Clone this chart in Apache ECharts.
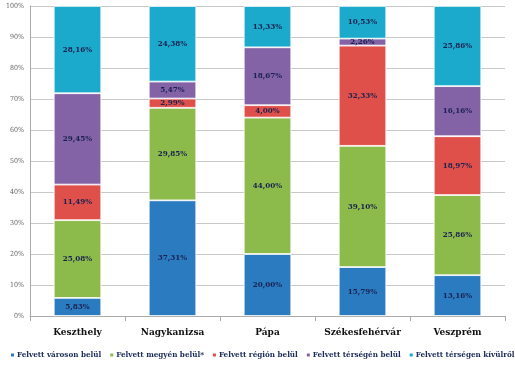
<!DOCTYPE html>
<html><head><meta charset="utf-8">
<script src="https://cdn.jsdelivr.net/npm/echarts@6/dist/echarts.min.js"></script>
<style>html,body{margin:0;padding:0;background:#fff;overflow:hidden}#c{width:515px;height:365px}</style>
</head><body><div id="c"></div>
<script>
const categories = ['Keszthely','Nagykanizsa','Pápa','Székesfehérvár','Veszprém'];
const seriesNames = ['Felvett városon belül','Felvett megyén belül*','Felvett régión belül','Felvett térségén belül','Felvett térségen kívülről'];
const varosonBelul = [5.83, 37.31, 20.00, 15.79, 13.16];
const megyenBelul = [25.08, 29.85, 44.00, 39.10, 25.86];
const regionBelul = [11.49, 2.99, 4.00, 32.33, 18.97];
const tersegenBelul = [29.45, 5.47, 18.67, 2.26, 16.16];
const tersegenKivulrol = [28.16, 24.38, 13.33, 10.53, 25.86];
const colors = ['#2B7BC1','#8DBB4B','#E0504B','#8462A6','#1BAACB'];
const yTicks = [0,10,20,30,40,50,60,70,80,90,100];
const values = [varosonBelul, megyenBelul, regionBelul, tersegenBelul, tersegenKivulrol];
const serif = '"DejaVu Serif Condensed", "DejaVu Serif", serif';
const chart = echarts.init(document.getElementById('c'));
chart.setOption({
  animation:false,
  grid:{left:30,right:10,top:6,bottom:49},
  legend:{bottom:1,left:4,width:800,itemWidth:5,itemHeight:5,itemGap:7,
    textStyle:{fontFamily:serif,fontWeight:'bold',fontSize:8,color:'#1a2a5a',padding:[0,0,0,-3]},
    data:seriesNames.map((n,i)=>({name:n,icon:'rect'}))},
  xAxis:{type:'category',data:categories,
    axisLine:{lineStyle:{color:'#aaa'}},
    axisTick:{show:true,lineStyle:{color:'#aaa'}},
    axisLabel:{interval:0,fontFamily:serif,fontWeight:'bold',fontSize:10,color:'#111',margin:11}},
  yAxis:{type:'value',min:0,max:100,interval:10,
    axisLine:{show:true,lineStyle:{color:'#aaa'}},
    axisTick:{show:false},
    splitLine:{lineStyle:{color:'#c8c8c8'}},
    axisLabel:{fontFamily:serif,fontSize:7,color:'#666',margin:6,formatter:v=>yTicks.includes(v)?v+'%':''}},
  series:values.map((arr,i)=>({
    name:seriesNames[i],type:'bar',stack:'s',barWidth:'50%',
    itemStyle:{color:colors[i],borderColor:'#fff',borderWidth:0.8},
    label:{show:true,position:'inside',fontFamily:serif,fontWeight:'bold',fontSize:8,color:'#1a2250',
      formatter:p=>p.value.toFixed(2).replace('.',',')+'%'},
    data:arr
  }))
});
</script></body></html>
